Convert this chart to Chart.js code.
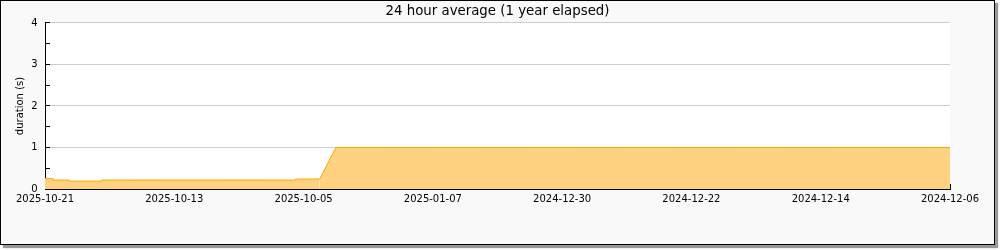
<!DOCTYPE html>
<html>
<head>
<meta charset="utf-8">
<script src="https://cdn.jsdelivr.net/npm/chart.js@4/dist/chart.umd.min.js"></script>
<style>
  html, body { margin: 0; padding: 0; background: #ffffff; }
  #frame {
    position: absolute; left: 0; top: 0;
    width: 995px; height: 245px; box-sizing: border-box;
    border: 1px solid #000; background: #f9f9f9;
    box-shadow: 3px 3px 1px #999;
  }
  #chart { display: block; }
</style>
</head>
<body>
<div id="frame"><canvas id="chart" width="993" height="243"></canvas></div>
<script>
// tick labels every 8 points, newest first
const dateLabels = ['2025-10-21', '2025-10-13', '2025-10-05', '2025-01-07',
                    '2024-12-30', '2024-12-22', '2024-12-14', '2024-12-06'];

// daily 24h average duration (s), one value per point
const durations = [
  0.25, 0.215, 0.19, 0.19, 0.215, 0.215, 0.215, 0.215, 0.215, 0.215,
  0.215, 0.215, 0.215, 0.215, 0.215, 0.215, 0.24, 0.24, 1.0, 1.0,
  1.0, 1.0, 1.0, 1.0, 1.0, 1.0, 1.0, 1.0, 1.0, 1.0,
  1.0, 1.0, 1.0, 1.0, 1.0, 1.0, 1.0, 1.0, 1.0, 1.0,
  1.0, 1.0, 1.0, 1.0, 1.0, 1.0, 1.0, 1.0, 1.0, 1.0,
  1.0, 1.0, 1.0, 1.0, 1.0, 1.0, 1.0
];
const gapIndex = 17; // last point before the jump in dates

const lowPart = durations.slice(0, gapIndex + 1).map((y, i) => ({ x: i, y: y }));
const highPart = durations.slice(gapIndex).map((y, i) => ({ x: i + gapIndex, y: y }));

const whiteArea = {
  id: 'whiteArea',
  beforeDraw(chart) {
    const a = chart.chartArea;
    const ctx = chart.ctx;
    ctx.save();
    ctx.fillStyle = '#ffffff';
    ctx.fillRect(a.left, a.top, a.right - a.left, a.bottom - a.top);
    ctx.restore();
  }
};

const lineStyle = {
  borderColor: '#ffa500',
  backgroundColor: '#fed280',
  borderWidth: 1,
  pointRadius: 0,
  fill: 'origin',
  tension: 0
};

Chart.defaults.font.family = '"DejaVu Sans", sans-serif';
Chart.defaults.color = '#000';

new Chart(document.getElementById('chart').getContext('2d'), {
  type: 'line',
  data: {
    datasets: [
      Object.assign({ data: lowPart, stepped: 'middle' }, lineStyle),
      Object.assign({ data: highPart }, lineStyle)
    ]
  },
  options: {
    responsive: false,
    animation: false,
    layout: { padding: 0 },
    plugins: {
      legend: { display: false },
      tooltip: { enabled: false },
      title: {
        display: true,
        text: '24 hour average (1 year elapsed)',
        font: { size: 13.33, weight: 'normal' },
        color: '#000',
        padding: { top: 3, bottom: 3 }
      }
    },
    scales: {
      x: {
        type: 'linear',
        min: 0,
        max: durations.length - 1,
        afterFit(scale) { scale.height = 55; },
        border: { color: '#000', width: 1 },
        grid: { drawOnChartArea: false, drawTicks: true, tickLength: -5, tickColor: '#000' },
        ticks: {
          stepSize: 4,
          autoSkip: false,
          maxRotation: 0,
          padding: 9,
          font: { size: 10 },
          callback: v => (v % 8 === 0 ? dateLabels[v / 8] : '')
        }
      },
      y: {
        min: 0,
        max: 4,
        afterFit(scale) { scale.width = 44; },
        border: { color: '#000', width: 1 },
        grid: {
          color: ctx => (Number.isInteger(ctx.tick.value) ? '#cccccc' : 'rgba(0,0,0,0)'),
          tickColor: '#000',
          tickLength: -5
        },
        ticks: {
          stepSize: 0.5,
          padding: 12.5,
          font: { size: 10 },
          callback: v => (Number.isInteger(v) ? String(v) : '')
        },
        title: {
          display: true,
          text: 'duration (s)',
          font: { size: 10 },
          padding: { top: 13, bottom: 0 }
        }
      },
      // empty right margin so the title stays centred on the frame
      yRight: {
        position: 'right',
        min: 0,
        max: 4,
        afterFit(scale) { scale.width = 44; },
        border: { display: false },
        grid: { display: false },
        ticks: { display: false }
      }
    }
  },
  plugins: [whiteArea]
});
</script>
</body>
</html>
